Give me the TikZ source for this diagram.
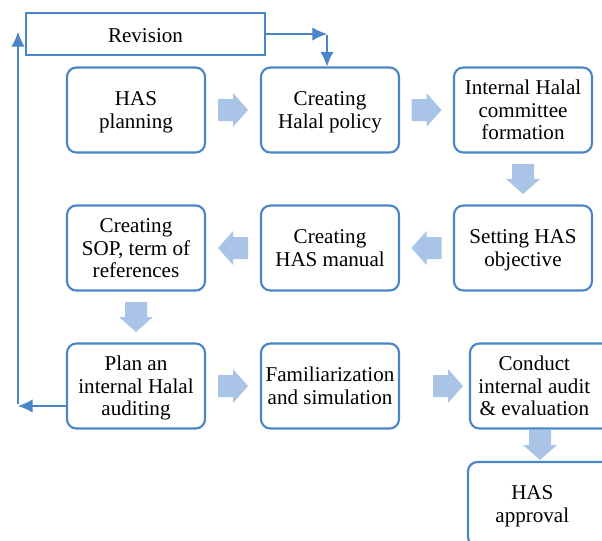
\documentclass[tikz,border=0pt]{standalone}
\usepackage{fontspec}
\setmainfont{Liberation Serif}
\usetikzlibrary{calc,arrows.meta}
\definecolor{boxblue}{HTML}{4A86C5}
\definecolor{arrblue}{HTML}{A9C4E6}
\renewcommand\arraystretch{1.02}
\newcommand\bxtext[1]{\raisebox{-2pt}[\height][\depth]{\begin{tabular}{@{}c@{}}#1\end{tabular}}}
\tikzset{
  x=0.75pt, y=-0.75pt,
  stepbox/.style={draw=boxblue, line width=1.6pt, rounded corners=7pt, minimum width=138*0.75pt, minimum height=85*0.75pt, align=center, font=\fontsize{15.8pt}{16.5pt}\selectfont, inner sep=1pt},
  revbox/.style={draw=boxblue, line width=0.8pt, minimum width=239*0.75pt, minimum height=42*0.75pt, font=\fontsize{15.8pt}{16.5pt}\selectfont},
  thinarrow/.style={draw=boxblue, line width=0.9pt, -{Latex[length=11pt,width=10pt]}},
  pics/blockarrow/.style={code={\fill[arrblue] (-15,-11) -- (0,-11) -- (0,-17) -- (15,0) -- (0,17) -- (0,11) -- (-15,11) -- cycle;}}
}
\begin{document}
\begin{tikzpicture}
\clip (0,0) rectangle (602,540);
\useasboundingbox (0,0) rectangle (602,540);
\node[revbox] (rev) at (145.5,34) {\raisebox{-1.5pt}[\height][\depth]{Revision}};
\node[stepbox] (a1) at (136,110) {\bxtext{HAS\\planning}};
\node[stepbox] (a2) at (330,110) {\bxtext{Creating\\Halal policy}};
\node[stepbox] (a3) at (523,110) {\bxtext{Internal Halal\\committee\\formation}};
\node[stepbox] (b3) at (523,248) {\bxtext{Setting HAS\\objective}};
\node[stepbox] (b2) at (330,248) {\bxtext{Creating\\HAS manual}};
\node[stepbox] (b1) at (136,248) {\bxtext{Creating\\SOP, term of\\references}};
\node[stepbox] (c1) at (136,386) {\bxtext{Plan an\\internal Halal\\auditing}};
\node[stepbox] (c2) at (330,386) {\bxtext{Familiarization\\and simulation}};
\node[stepbox, minimum width=150*0.75pt] (c3) at (545,386) {\hspace*{-16pt}\bxtext{Conduct\\internal audit\\\& evaluation}};
\node[stepbox, minimum width=150*0.75pt, minimum height=84*0.75pt] (d3) at (543,504) {\hspace*{-16pt}\bxtext{HAS\\approval}};
% block arrows
\pic at ($(a1.east)!0.5!(a2.west)$) {blockarrow};
\pic at ($(a2.east)!0.5!(a3.west)$) {blockarrow};
\pic[rotate=-90] at ($(a3.south)!0.5!(b3.north)$) {blockarrow};
\pic[rotate=180] at ($(b3.west)!0.5!(b2.east)$) {blockarrow};
\pic[rotate=180] at ($(b2.west)!0.5!(b1.east)$) {blockarrow};
\pic[rotate=-90] at ($(b1.south)!0.5!(c1.north)$) {blockarrow};
\pic at ($(c1.east)!0.5!(c2.west)$) {blockarrow};
\pic at (448,386) {blockarrow};
\pic[rotate=-90] at (540,445) {blockarrow};
% thin connectors
\coordinate (r1) at (327,34);
\coordinate (l1) at (18,406);
\coordinate (l0) at (18,404);
\coordinate (l2) at (18,32);
\draw[thinarrow] (rev.east) -- (r1);
\draw[thinarrow] ($(r1)+(0,1)$) -- (a2.north -| r1);
\draw[thinarrow] (c1.west |- l1) -- (l1);
\draw[thinarrow] (l0) -- (l2);
\end{tikzpicture}
\end{document}
